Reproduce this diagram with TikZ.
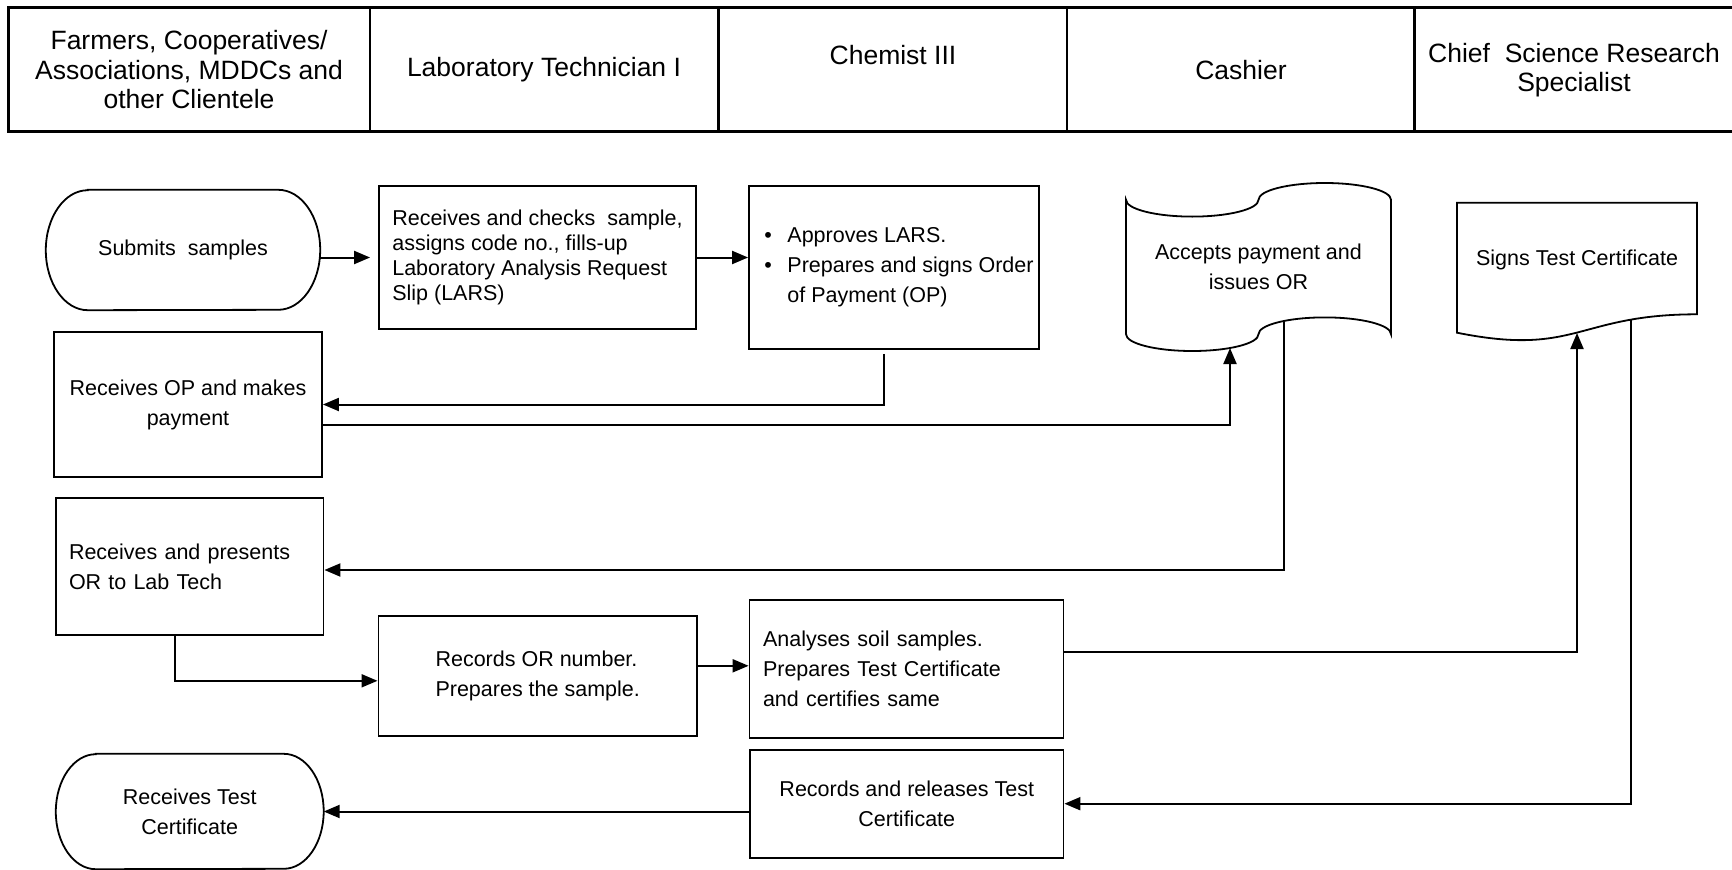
\documentclass[tikz,border=0pt]{standalone}
\usepackage{fontspec}
\setmainfont{Liberation Sans}
\usetikzlibrary{arrows.meta, calc}

\begin{document}
\begin{tikzpicture}[x=1pt, y=1pt, font=\fontsize{21.5}{30}\selectfont, % 单位:1pt 对应原图 1 像素
    box/.style={draw, line width=1.8pt, inner sep=0pt},
    hd/.style={align=center, inner sep=0pt, font=\fontsize{26.5}{29.5}\selectfont},
    arr/.style={-{Triangle[length=16pt, width=13pt]}, line width=2pt}]

    % 0. 画布与边界
    \fill[white] (0,0) rectangle (1732,-870);
    \useasboundingbox (0,0) rectangle (1732,-870);

    % 1. 表头 (右边框在画面之外)
    \draw[line width=3pt] (8,-7) rectangle (1740,-131);
    \foreach \x in {370, 718.5, 1067, 1414.5}
        \draw[line width=2.5pt] (\x,-7) -- (\x,-131);
    \node[hd] (hd1) at (189,-70) {Farmers, Cooperatives/\\Associations, MDDCs and\\other Clientele};
    \node[hd] (hd2) at (544,-70) {Laboratory Technician I};
    \node[hd] (hd3) at (893,-55) {Chemist III};
    \node[hd] (hd4) at (1241,-70) {Cashier};
    \node[hd] (hd5) at (1574,-70) {Chief\ \ Science Research\\Specialist};

    % 2. 起止框 (椭圆圆角)
    \node[inner sep=0pt, minimum width=274pt, minimum height=120pt] (submit) at (183,-250) {Submits\ \ samples};
    \draw[line width=1.8pt] ($(submit.north west)+(42,0)$) -- ($(submit.north east)+(-42,0)$)
        arc[start angle=90, end angle=-90, x radius=42, y radius=60]
        -- ($(submit.south west)+(42,0)$)
        arc[start angle=270, end angle=90, x radius=42, y radius=60] -- cycle;

    \node[inner sep=0pt, minimum width=267.5pt, minimum height=115pt, align=center] (rectc) at (189.75,-811.5) {Receives Test\\Certificate};
    \draw[line width=1.8pt] ($(rectc.north west)+(40,0)$) -- ($(rectc.north east)+(-40,0)$)
        arc[start angle=90, end angle=-90, x radius=40, y radius=57.5]
        -- ($(rectc.south west)+(40,0)$)
        arc[start angle=270, end angle=90, x radius=40, y radius=57.5] -- cycle;

    % 3. 处理框
    \node[box, minimum width=317pt, minimum height=143pt, align=left, font=\fontsize{21.5}{25}\selectfont]
        (lars) at (537.5,-257.5) {Receives and checks\ \ sample,\\assigns code no., fills-up\\Laboratory Analysis Request\\Slip (LARS)};
    \node[box, minimum width=290pt, minimum height=163pt, align=left] (chem) at (894,-267.5)
        {\hspace*{10pt}\textbullet\hspace{15.5pt}Approves LARS.\\
         \hspace*{10pt}\textbullet\hspace{15.5pt}Prepares and signs Order\\
         \hspace*{10pt}\phantom{\textbullet}\hspace{15.5pt}of Payment (OP)};
    \node[box, minimum width=268pt, minimum height=145pt, align=center] (recop) at (188,-404.5) {Receives OP and makes\\payment};
    \node[box, minimum width=267.5pt, minimum height=137pt, text width=241.5pt, align=left]
        (recor) at (189.75,-566.5) {Receives and presents\\OR to Lab Tech};
    \node[box, minimum width=318.6pt, minimum height=119.6pt, align=left] (records) at (537.7,-675.8) {Records OR number.\\Prepares the sample.};
    \node[box, minimum width=314pt, minimum height=138pt, text width=287pt, align=left]
        (analyses) at (906.5,-669) {Analyses soil samples.\\Prepares Test Certificate\\and certifies same};
    \node[box, minimum width=313.5pt, minimum height=108pt, align=center] (release) at (906.75,-803.7) {Records and releases Test\\Certificate};

    % 4. 文件框 (穿孔带 / 单据)
    \node[inner sep=0pt, align=center] (cash) at (1258.5,-267) {Accepts payment and\\issues OR};
    \draw[line width=1.8pt] ($(cash)+(-132.5,67.2)$)
        arc[start angle=180, end angle=360, x radius=66.25, y radius=16.8]
        arc[start angle=180, end angle=0, x radius=66.25, y radius=16.8]
        -- ++(0,-134.4)
        arc[start angle=0, end angle=180, x radius=66.25, y radius=16.8]
        arc[start angle=0, end angle=-180, x radius=66.25, y radius=16.8] -- cycle;
    \coordinate (cash in) at ($(cash)+(-28.5,-81)$);
    \coordinate (cash out) at ($(cash)+(25,-54)$);

    \node[inner sep=0pt] (signs) at (1577,-260) {Signs Test Certificate};
    \draw[line width=1.8pt] ($(signs)+(-120,57.3)$) -- ++(240,0) -- ++(0,-111.6)
        .. controls ($(signs)+(0,-54.3)$) and ($(signs)+(0,-96.9)$) .. ($(signs)+(-120,-72.7)$) -- cycle;
    \coordinate (signs in) at ($(signs)+(0,-73)$);
    \coordinate (signs out) at ($(signs)+(53.5,-60)$);

    % 5. 连接线
    \draw[arr, shorten >=8pt] (submit.east |- lars.west) -- (lars.west);
    \draw[arr] (lars.east) -- (lars.east -| chem.west);
    \draw[arr] ([shift={(-10,-4)}]chem.south) |- (recop.east);
    \draw[arr] ([yshift=-20.5pt]recop.east) -| (cash in);
    \draw[arr] (cash out) |- ([yshift=-3.5pt]recor.east);
    \draw[arr] ([xshift=-15pt]recor.south) |- ([yshift=-5pt]records.west);
    \draw[arr] ([yshift=10pt]records.east) coordinate (r1) -- (r1 -| analyses.west);
    \draw[arr] ([yshift=17.5pt]analyses.east) -| (signs in);
    \draw[arr] (signs out) |- (release.east);
    \draw[arr] (release.west |- rectc.east) -- (rectc.east);

\end{tikzpicture}
\end{document}
